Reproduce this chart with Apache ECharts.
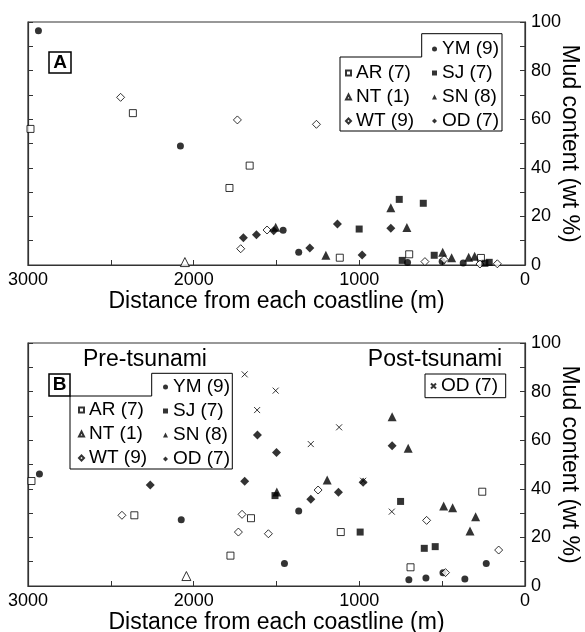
<!DOCTYPE html>
<html>
<head>
<meta charset="utf-8">
<script src="https://cdn.jsdelivr.net/npm/echarts@6/dist/echarts.min.js"></script>
<style>
  html, body { margin: 0; padding: 0; background: #fff; }
  #container { width: 585px; height: 632px; }
</style>
</head>
<body>
<div id="container"></div>
<script>
// panel A: [distance from coastline (m), mud content (wt %)]
const a_ym = [[2937, 96.4], [2080, 49], [1460, 14.3], [1366, 5.2], [709, 1.0], [500, 1.4], [373, 0.8]];
const a_ar = [[2985, 56], [2367, 62.5], [1662, 40.9], [1784, 31.7], [1118, 3.0], [699, 4.4], [266, 2.9]];
const a_nt = [[2053, 1.2]];
const a_wt = [[2441, 69], [1736, 59.7], [1259, 57.9], [1557, 14.4], [1716, 6.7], [604, 1.4], [488, 2.3], [272, 0.4], [167, 0.5]];
const a_sj = [[1001, 14.8], [759, 27.0], [614, 25.4], [741, 1.9], [548, 4.0], [242, 0.7], [216, 1.1]];
const a_sn = [[1505, 15.5], [1202, 4.0], [810, 23.6], [713, 15.4], [497, 5.2], [443, 3.0], [340, 3.2], [304, 3.6]];
const a_od = [[1700, 11.2], [1621, 12.5], [1517, 14.1], [1299, 7.0], [1132, 16.9], [983, 4.1], [810, 15.1]];

// panel B: pre-tsunami
const b_ym = [[2931, 46.1], [2075, 27.3], [1452, 9.3], [1366, 30.9], [701, 2.6], [598, 3.3], [495, 5.5], [363, 2.9], [234, 9.3]];
const b_ar = [[2979, 43.2], [2358, 29.1], [1654, 27.9], [1778, 12.5], [1112, 22.2], [691, 7.7], [258, 38.8]];
const b_nt = [[2044, 4.1]];
const b_wt = [[2433, 29.1], [1708, 29.5], [1730, 22.2], [1549, 21.5], [1249, 39.5], [594, 27.0], [480, 5.5], [159, 14.8]];
const b_sj = [[1509, 37.2], [995, 22.2], [751, 34.8], [608, 15.5], [542, 16.2]];
const b_sn = [[1498, 38.7], [1194, 43.6], [802, 69.7], [705, 56.7], [491, 32.9], [437, 32.2], [332, 22.6], [298, 28.5]];
const b_od = [[2262, 41.6], [1692, 43.1], [1615, 62.1], [1500, 54.9], [1293, 35.7], [1126, 38.6], [977, 42.7], [802, 57.7]];
// panel B: post-tsunami
const b_od_post = [[1692, 87.1], [1505, 80.4], [1617, 72.4], [1293, 58.4], [1122, 65.3], [977, 43.3], [804, 30.6]];

const xTitle = 'Distance from each coastline (m)';
const yTitle = 'Mud content (wt %)';

const FONT = 'Liberation Sans, Arial, sans-serif';
const AXIS_COLOR = '#333';

let dom = document.getElementById('container');
let myChart = echarts.init(dom, null, { renderer: 'canvas' });

function xAxisFor(gridIndex) {
    return {
        gridIndex: gridIndex,
        type: 'value',
        min: 0,
        max: 3000,
        interval: 500,
        inverse: true,
        axisLine: { show: true, lineStyle: { color: AXIS_COLOR, width: 1.2 } },
        axisTick: { show: true, inside: true, length: 5, lineStyle: { color: AXIS_COLOR } },
        axisLabel: {
            color: '#000', fontSize: 18, margin: 6, fontFamily: FONT,
            formatter: v => (v % 1000 === 0 ? String(v) : '')
        },
        splitLine: { show: false },
        name: xTitle,
        nameLocation: 'middle',
        nameGap: 23,
        nameTextStyle: { color: '#000', fontSize: 23, fontFamily: FONT }
    };
}

function yRight(gridIndex) {
    return {
        gridIndex: gridIndex,
        type: 'value',
        position: 'right',
        min: 0,
        max: 100,
        interval: 10,
        axisLine: { show: true, lineStyle: { color: AXIS_COLOR, width: 1.2 } },
        axisTick: { show: true, inside: true, length: 5, lineStyle: { color: AXIS_COLOR } },
        axisLabel: {
            color: '#000', fontSize: 18, margin: 6, fontFamily: FONT,
            formatter: v => (v % 20 === 0 ? String(v) : '')
        },
        splitLine: { show: false },
        name: yTitle,
        nameLocation: 'middle',
        nameRotate: -90,
        nameGap: 33,
        nameMoveOverlap: false,
        nameTextStyle: { color: '#000', fontSize: 23, fontFamily: FONT }
    };
}

function yLeft(gridIndex) {
    return {
        gridIndex: gridIndex,
        type: 'value',
        position: 'left',
        min: 0,
        max: 100,
        interval: 10,
        axisLine: { show: true, lineStyle: { color: AXIS_COLOR, width: 1.2 } },
        axisTick: { show: true, inside: true, length: 5, lineStyle: { color: AXIS_COLOR } },
        axisLabel: { show: false },
        splitLine: { show: false }
    };
}

const filled = { color: '#000' };
const hollow = { color: '#fff', borderColor: '#000', borderWidth: 1 };
const cross = 'path://M0,0L10,10M10,0L0,10';

const styles = {
    'YM (9)': { symbol: 'circle', symbolSize: 7, itemStyle: filled },
    'AR (7)': { symbol: 'rect', symbolSize: 7, itemStyle: hollow },
    'NT (1)': { symbol: 'triangle', symbolSize: 9, itemStyle: hollow },
    'WT (9)': { symbol: 'diamond', symbolSize: 8, itemStyle: hollow },
    'SJ (7)': { symbol: 'rect', symbolSize: 7, itemStyle: filled },
    'SN (8)': { symbol: 'triangle', symbolSize: 9, itemStyle: filled },
    'OD (7)': { symbol: 'diamond', symbolSize: 9, itemStyle: filled },
    'OD (7) ': { symbol: cross, symbolSize: 6, itemStyle: { color: 'transparent', borderColor: '#000', borderWidth: 1 } }
};

function scatter(name, data, panel) {
    let s = styles[name];
    return {
        name: name,
        type: 'scatter',
        xAxisIndex: panel,
        yAxisIndex: panel * 2,
        data: data,
        symbol: s.symbol,
        symbolSize: s.symbolSize,
        itemStyle: s.itemStyle,
        emphasis: { disabled: true }
    };
}

function legendCol(names, left, top) {
    return {
        data: names,
        orient: 'vertical',
        left: left,
        top: top,
        padding: 0,
        itemGap: 4,
        itemWidth: 5,
        itemHeight: 5,
        selectedMode: false,
        textStyle: { color: '#000', fontSize: 19, lineHeight: 20, fontFamily: FONT }
    };
}

function txt(text, x, y, size, weight, align) {
    return {
        type: 'text',
        style: {
            text: text, x: x, y: y,
            fontSize: size, fontWeight: weight || 'normal', fontFamily: FONT,
            fill: '#000',
            align: align || 'left', verticalAlign: 'middle',
            textAlign: align || 'left', textVerticalAlign: 'middle'
        }
    };
}

function box(x, y, w, h, lw) {
    return {
        type: 'rect',
        shape: { x: x, y: y, width: w, height: h },
        style: { fill: 'none', stroke: '#000', lineWidth: lw || 1 }
    };
}

function poly(points) {
    return {
        type: 'polygon',
        shape: { points: points },
        style: { fill: 'none', stroke: '#000', lineWidth: 1 }
    };
}

let option = {
    animation: false,
    textStyle: { fontFamily: FONT },
    grid: [
        { left: 28, right: 60, top: 22, height: 243, outerBoundsMode: 'none', containLabel: false, show: true, borderColor: AXIS_COLOR, borderWidth: 1.2, backgroundColor: 'transparent' },
        { left: 28, right: 60, top: 343, height: 243, outerBoundsMode: 'none', containLabel: false, show: true, borderColor: AXIS_COLOR, borderWidth: 1.2, backgroundColor: 'transparent' }
    ],
    xAxis: [xAxisFor(0), xAxisFor(1)],
    yAxis: [yRight(0), yLeft(0), yRight(1), yLeft(1)],
    legend: [
        legendCol(['YM (9)', 'SJ (7)', 'SN (8)', 'OD (7)'], 432, 39),
        legendCol(['AR (7)', 'NT (1)', 'WT (9)'], 345, 63),
        legendCol(['YM (9)', 'SJ (7)', 'SN (8)', 'OD (7)'], 163, 377),
        legendCol(['AR (7)', 'NT (1)', 'WT (9)'], 78, 400),
        legendCol(['OD (7) '], 430, 376)
    ],
    graphic: [
        box(49, 52, 22, 21, 1.5),
        txt('A', 60, 63, 19, 'bold', 'center'),
        poly([[421.7, 33.7], [502, 33.7], [502, 131], [340, 131], [340, 57], [421.7, 57]]),
        box(49, 374, 21, 22, 1.5),
        txt('B', 59.5, 385, 19, 'bold', 'center'),
        poly([[70, 396], [151.7, 396], [151.7, 373.3], [232.3, 373.3], [232.3, 469], [70, 469]]),
        box(425, 374, 80.7, 23.7, 1),
        txt('Pre-tsunami', 83, 360, 23),
        txt('Post-tsunami', 502, 360, 23, 'normal', 'right')
    ],
    series: [
        scatter('YM (9)', a_ym, 0),
        scatter('AR (7)', a_ar, 0),
        scatter('NT (1)', a_nt, 0),
        scatter('WT (9)', a_wt, 0),
        scatter('SJ (7)', a_sj, 0),
        scatter('SN (8)', a_sn, 0),
        scatter('OD (7)', a_od, 0),
        scatter('YM (9)', b_ym, 1),
        scatter('AR (7)', b_ar, 1),
        scatter('NT (1)', b_nt, 1),
        scatter('WT (9)', b_wt, 1),
        scatter('SJ (7)', b_sj, 1),
        scatter('SN (8)', b_sn, 1),
        scatter('OD (7)', b_od, 1),
        scatter('OD (7) ', b_od_post, 1)
    ]
};
myChart.setOption(option);
</script>
</body>
</html>
